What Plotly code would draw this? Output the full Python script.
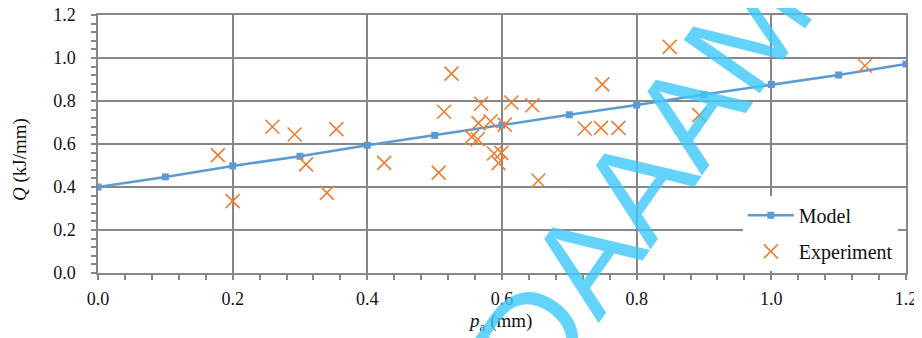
import plotly.graph_objects as go

# Model series
model_x = [0.0, 0.1, 0.2, 0.3, 0.4, 0.5, 0.6, 0.7, 0.8, 0.9, 1.0, 1.1, 1.2]
model_q = [0.400, 0.447, 0.498, 0.543, 0.594, 0.640, 0.688, 0.736, 0.781, 0.830, 0.877, 0.921, 0.972]

# Experimental points
exp_x = [0.178, 0.200, 0.259, 0.292, 0.309, 0.340, 0.354, 0.425, 0.506, 0.514,
         0.525, 0.555, 0.564, 0.565, 0.569, 0.583, 0.588, 0.595, 0.599, 0.604,
         0.614, 0.645, 0.654, 0.723, 0.747, 0.749, 0.773, 0.849, 0.893, 1.139]
exp_q = [0.548, 0.334, 0.680, 0.644, 0.505, 0.373, 0.669, 0.512, 0.467, 0.750,
         0.927, 0.633, 0.622, 0.697, 0.787, 0.706, 0.556, 0.511, 0.559, 0.690,
         0.793, 0.780, 0.430, 0.672, 0.675, 0.877, 0.675, 1.052, 0.734, 0.964]

x_ticks = [0.0, 0.2, 0.4, 0.6, 0.8, 1.0, 1.2]
y_ticks = [0.0, 0.2, 0.4, 0.6, 0.8, 1.0, 1.2]

FONT = "Liberation Serif, Times New Roman, serif"
GRID = "#878787"
TXT = "#111111"

fig = go.Figure()
fig.add_trace(go.Scatter(
    x=model_x, y=model_q, name="Model", mode="lines+markers",
    line=dict(color="#5B9BD5", width=2.5),
    marker=dict(symbol="square", size=7, color="#5B9BD5"),
    legendgroup="a",
))
fig.add_trace(go.Scatter(
    x=exp_x, y=exp_q, name="Experiment", mode="markers",
    marker=dict(symbol="x-thin-open", size=14, color="#ED7D31",
                line=dict(color="#ED7D31", width=1.6)),
    legendgroup="b",
))

# The page body adds an 8 px offset, so margins are shifted to compensate
fig.update_layout(
    width=922, height=338,
    margin=dict(l=90, r=24, t=7, b=73, autoexpand=False),
    paper_bgcolor="white", plot_bgcolor="white",
    font=dict(family=FONT, size=18, color=TXT),
    showlegend=True,
    legend=dict(x=0.798, y=0.299, xanchor="left", yanchor="top",
                bgcolor="white", borderwidth=0, tracegroupgap=7, itemwidth=46,
                font=dict(family=FONT, size=20, color=TXT)),
)

common = dict(
    range=[0, 1.2],
    showgrid=True, gridcolor=GRID, gridwidth=1.5,
    showline=True, linecolor=GRID, linewidth=1.5, mirror=True,
    ticks="outside", ticklen=5, tickcolor=GRID, tickwidth=1.5,
    minor=dict(dtick=0.04, ticks="outside", ticklen=5, tickcolor=GRID, tickwidth=1.5, showgrid=False),
    zeroline=False, automargin=False, ticklabeloverflow="allow",
    tickfont=dict(family=FONT, size=18, color=TXT),
)
fig.update_xaxes(tickvals=x_ticks, ticktext=[f"{v:.1f}" for v in x_ticks],
                 ticklabelstandoff=4, **common)
fig.update_yaxes(tickvals=y_ticks, ticktext=[f"{v:.1f}" for v in y_ticks],
                 ticklabelstandoff=12, **common)

# Axis titles
fig.add_annotation(text="<i>p</i><sub>a</sub> (mm)", xref="paper", yref="paper",
                   x=0.4975, y=-0.19, xanchor="center", yanchor="middle", showarrow=False,
                   font=dict(family=FONT, size=19, color=TXT))
fig.add_annotation(text="<i>Q</i> (kJ/mm)", xref="paper", yref="paper",
                   x=-0.0965, y=0.438, xanchor="center", yanchor="middle", showarrow=False,
                   textangle=-90, font=dict(family=FONT, size=19, color=TXT))

# Watermark
fig.add_annotation(text="DAAAM", xref="paper", yref="paper",
                   x=0.673, y=0.36, xanchor="center", yanchor="middle", showarrow=False,
                   textangle=-55,
                   font=dict(family="Liberation Sans, Arial, sans-serif", size=135,
                             color="rgba(60,200,250,0.8)"))

fig.write_html("out.html")
